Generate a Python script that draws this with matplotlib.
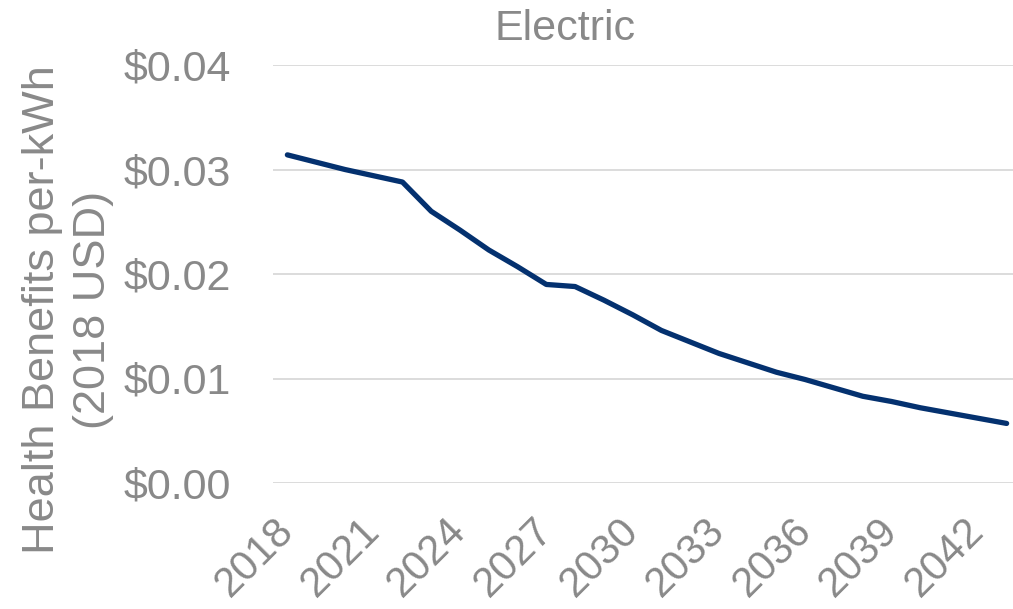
import numpy as np
import matplotlib
matplotlib.use("Agg")
from matplotlib import pyplot as plt

years = list(range(2018, 2044))
benefits = [0.0314, 0.0307, 0.0300, 0.0294, 0.0288, 0.0260, 0.0242, 0.0223,
            0.0207, 0.0190, 0.0188, 0.0175, 0.0161, 0.0146, 0.0135, 0.0124,
            0.0115, 0.0106, 0.0099, 0.0091, 0.0083, 0.0078, 0.0072, 0.0067,
            0.0062, 0.0057]
yticks = [0.00, 0.01, 0.02, 0.03, 0.04]
xticks = list(range(2018, 2043, 3))

grey = "#898989"
plt.rcParams['font.family'] = ['Liberation Sans', 'DejaVu Sans']

fig = plt.figure(figsize=(10.13, 6.09), dpi=100)
ax = fig.add_axes([273/1013, 1 - 483/609, (1021-273)/1013, (483-65)/609])

ax.plot(years, benefits, color="#04316f", lw=3.8, solid_capstyle="round",
        solid_joinstyle="round", zorder=3)

ax.set_xlim(2017.5, 2043.5)
ax.set_ylim(0, 0.04)
ax.set_yticks(yticks)
ax.set_yticklabels(["$%.2f" % v for v in yticks])
ax.set_xticks(xticks)
ax.set_xticklabels([str(y) for y in xticks], rotation=45, ha="right",
                   va="center", rotation_mode="anchor")
ax.tick_params(axis="both", length=0, labelsize=30, labelcolor=grey)
ax.tick_params(axis="y", labelsize=31, pad=30)
ax.tick_params(axis="x", pad=30)
ax.grid(axis="y", color="#d9d9d9", lw=1.3)
ax.set_axisbelow(True)
for s in ax.spines.values():
    s.set_visible(False)

fig.text(565/1013, 1 - 29/609, "Electric", ha="center", va="center",
         fontsize=31, color=grey)
fig.text(68/1013, 1 - 310/609, "Health Benefits per-kWh\n(2018 USD)",
         rotation=90, ha="center", va="center", multialignment="center",
         fontsize=32.5, color=grey, linespacing=1.3)

fig.savefig("out.png", dpi=100)
